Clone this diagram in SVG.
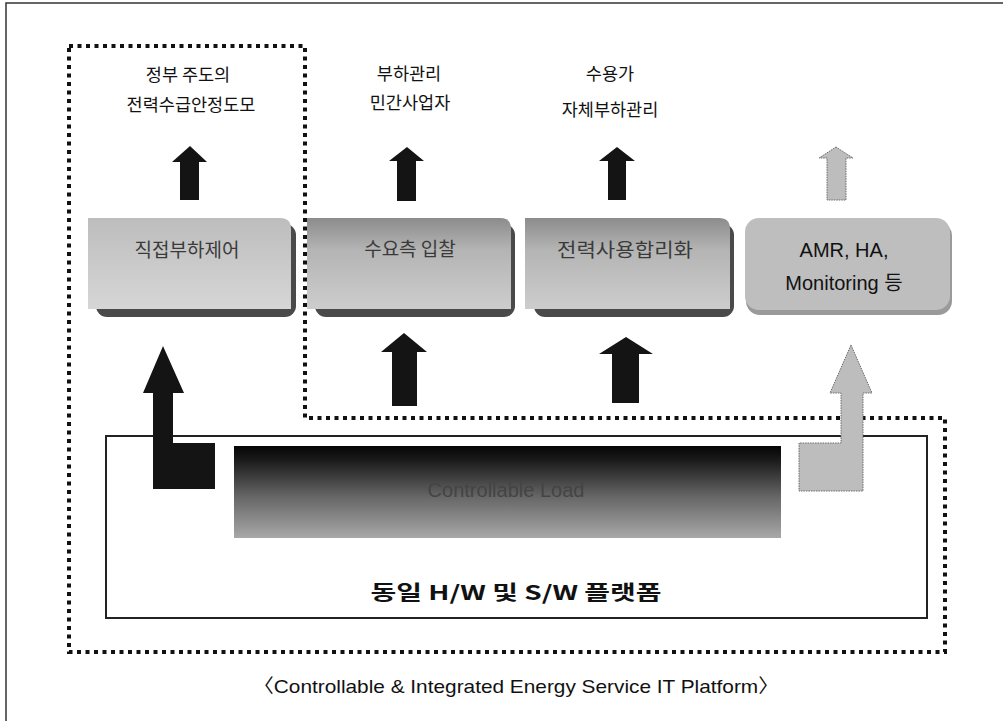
<svg xmlns="http://www.w3.org/2000/svg" width="1003" height="721" viewBox="0 0 1003 721">
<defs>
<linearGradient id="gMid" x1="0" y1="0" x2="0" y2="1">
<stop offset="0" stop-color="#8c8c8c"/>
<stop offset="0.35" stop-color="#b4b4b4"/>
<stop offset="1" stop-color="#cdcdcd"/>
</linearGradient>
<linearGradient id="gLeft" x1="0" y1="0" x2="0" y2="1">
<stop offset="0" stop-color="#bdbdbd"/>
<stop offset="1" stop-color="#d6d6d6"/>
</linearGradient>
<linearGradient id="gLoad" x1="0" y1="0" x2="0" y2="1">
<stop offset="0" stop-color="#050505"/>
<stop offset="0.15" stop-color="#1a1a1a"/>
<stop offset="0.55" stop-color="#666"/>
<stop offset="1" stop-color="#a8a8a8"/>
</linearGradient>
<style>
.frame{stroke:#333;stroke-width:1.5;fill:none}
.dots{fill:none;stroke:#111;stroke-width:4;stroke-dasharray:4 4.5}
.box{fill:#fff;stroke:#222;stroke-width:2}
.shadow{fill:#4a4a4a}
.lbl{font-family:"Noto Sans CJK KR","Liberation Sans",sans-serif;font-size:17.5px;fill:#111;text-anchor:middle}
.btxt{font-family:"Noto Sans CJK KR","Liberation Sans",sans-serif;font-size:19px;fill:#3a3a3a;text-anchor:middle}
.amr{font-family:"Liberation Sans","Noto Sans CJK KR",sans-serif;font-size:20px;fill:#111;text-anchor:middle}
.blk{fill:#141414}
.gry{fill:#bdbdbd;stroke:#6a6a6a;stroke-width:1;stroke-dasharray:1.5 1}
</style>
</defs>
<rect width="1003" height="721" fill="#fff"/>
<g id="frame">
<path class="frame" d="M6,721 V3 H1003"/>
</g>
<g id="region-gov">
<path class="dots" d="M69,46 H305 V418 H945 V652 H69 Z"/>
</g>
<g id="platform">
<rect class="box" x="106" y="436" width="821" height="182"/>
<text x="516" y="600" font-family="'Noto Sans CJK KR','Liberation Sans',sans-serif" font-size="20" font-weight="bold" fill="#111" text-anchor="middle" textLength="291" lengthAdjust="spacingAndGlyphs">동일 H/W 및 S/W 플랫폼</text>
</g>
<g id="load">
<rect x="234" y="446" width="547" height="92" fill="url(#gLoad)"/>
<text x="506" y="497" font-family="'Liberation Sans',sans-serif" font-size="20" fill="#444" text-anchor="middle">Controllable Load</text>
</g>
<g id="label-gov">
<text class="lbl" x="188" y="81">정부 주도의</text>
<text class="lbl" x="191" y="111">전력수급안정도모</text>
</g>
<g id="label-private">
<text class="lbl" x="409" y="80">부하관리</text>
<text class="lbl" x="410" y="109">민간사업자</text>
</g>
<g id="label-self">
<text class="lbl" x="610" y="80">수용가</text>
<text class="lbl" x="610" y="116">자체부하관리</text>
</g>
<g id="node-direct">
<rect class="shadow" x="96" y="224" width="200" height="93" rx="11"/>
<path d="M88,218 H280 Q291,218 291,229 V309 H88 Z" fill="url(#gLeft)"/>
<text class="btxt" x="187" y="257">직접부하제어</text>
</g>
<g id="node-bid">
<rect class="shadow" x="315" y="224" width="200" height="93" rx="11"/>
<path d="M307,218 H500 Q511,218 511,229 V309 H307 Z" fill="url(#gMid)"/>
<text class="btxt" x="410" y="256">수요측 입찰</text>
</g>
<g id="node-rational">
<rect class="shadow" x="534" y="224" width="200" height="93" rx="11"/>
<path d="M525,218 H719 Q730,218 730,229 V309 H525 Z" fill="url(#gMid)"/>
<text class="btxt" x="625" y="257" textLength="136" lengthAdjust="spacingAndGlyphs">전력사용합리화</text>
</g>
<g id="node-amr">
<rect x="746" y="222" width="206" height="93" rx="14" fill="#9a9a9a"/>
<rect x="745" y="218" width="205" height="92" rx="14" fill="#bebebe"/>
<text class="amr" x="844" y="257">AMR, HA,</text>
<text class="amr" x="844" y="290">Monitoring 등</text>
</g>
<g id="connectors">
<polygon class="blk" points="190,146 207,162 199,162 199,200 180,200 180,162 172,162"/>
<polygon class="blk" points="407,147 424,161 416,161 416,201 397,201 397,161 389,161"/>
<polygon class="blk" points="617,147 635,161 626,161 626,200 608,200 608,161 599,161"/>
<polygon class="gry" points="836,147 853,158 846,158 846,200 827,200 827,158 819,158"/>
<polygon class="blk" points="404,333 427,352 417,352 417,406 392,406 392,352 381,352"/>
<polygon class="blk" points="626,337 653,354 639,354 639,403 612,403 612,354 599,354"/>
<polygon class="blk" points="163,346 184,393 173,393 173,443 215,443 215,489 153,489 153,393 143,393"/>
<polygon class="gry" points="851,345 872,393 863,393 863,491 799,491 799,443 841,443 841,393 830,393"/>
</g>
<g id="caption">
<text x="516" y="693" font-family="'Liberation Sans','Noto Sans CJK KR',sans-serif" font-size="19" fill="#111" text-anchor="middle" textLength="526" lengthAdjust="spacingAndGlyphs">〈Controllable &amp; Integrated Energy Service IT Platform〉</text>
</g>
</svg>
